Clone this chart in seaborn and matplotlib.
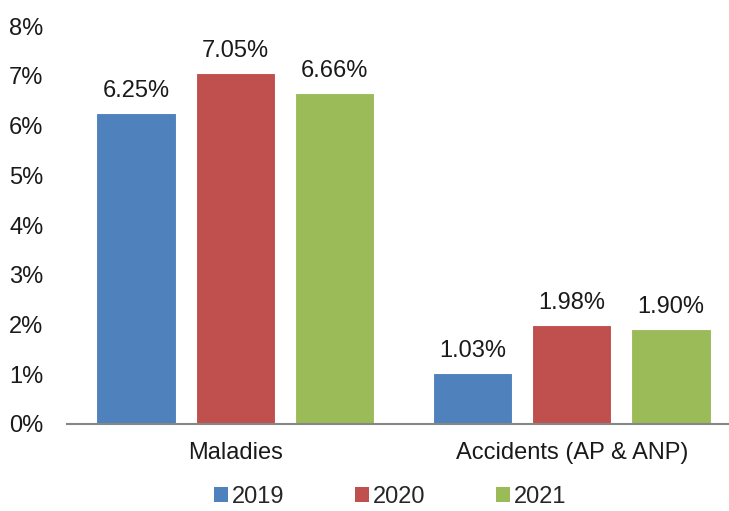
import matplotlib
matplotlib.use("Agg")
import matplotlib.pyplot as plt
import seaborn as sns
import pandas as pd
from matplotlib.patches import Patch

categories = ["Maladies", "Accidents (AP & ANP)"]
years = ["2019", "2020", "2021"]
values_2019 = [6.25, 1.03]
values_2020 = [7.05, 1.98]
values_2021 = [6.66, 1.90]
colors = ["#4F81BD", "#C0504D", "#9BBB59"]

rows = []
for yr, vals in zip(years, [values_2019, values_2020, values_2021]):
    for c, v in zip(categories, vals):
        rows.append({"cat": c, "year": yr, "val": v})
df = pd.DataFrame(rows)

sns.set_style("white")
plt.rcParams["font.family"] = ["Liberation Sans", "DejaVu Sans"]
FS = 17
TXT = "#1a1a1a"

fig = plt.figure(figsize=(7.29, 5.11), dpi=100)
ax = fig.add_axes([67/729, 1-424/511, 673/729, (424-26)/511])

sns.barplot(data=df, x="cat", y="val", hue="year", order=categories,
            hue_order=years, palette=colors, saturation=1, width=0.885, gap=0.2,
            edgecolor="white", linewidth=0.8, ax=ax, legend=False)

for cont in ax.containers:
    ax.bar_label(cont, labels=[f"{b.get_height():.2f}%" for b in cont],
                 padding=8, fontsize=FS, color=TXT)

ax.set_ylim(0, 8)
ax.set_xlim(-0.5, 1.5)
ax.set_yticks(range(0, 9))
ax.set_yticklabels([f"{i}%" for i in range(0, 9)], fontsize=FS, color=TXT)
ax.tick_params(axis="y", length=0, pad=17)
ax.tick_params(axis="x", length=0, pad=13, labelsize=FS, labelcolor=TXT)
ax.set_xlabel("")
ax.set_ylabel("")
for s in ["top", "right", "left"]:
    ax.spines[s].set_visible(False)
ax.spines["bottom"].set_color("#868686")
ax.spines["bottom"].set_linewidth(1.5)
ax.grid(False)

handles = [Patch(facecolor=c, edgecolor="none") for c in colors]
fig.legend(handles, years, loc="center", bbox_to_anchor=(390/729, 1-497/511),
           ncol=3, frameon=False, fontsize=FS, handlelength=0.6, handleheight=0.6,
           handletextpad=0.15, columnspacing=3.0, borderpad=0, borderaxespad=0)

fig.savefig("out.png", dpi=100)
